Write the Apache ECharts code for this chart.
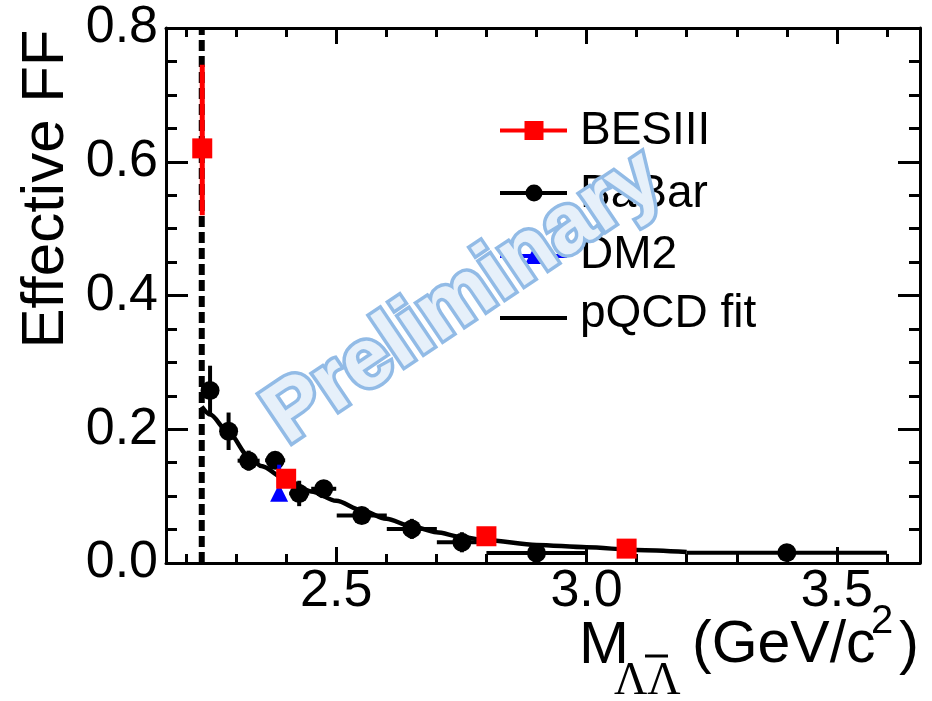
<!DOCTYPE html>
<html><head><meta charset="utf-8">
<script src="https://cdn.jsdelivr.net/npm/echarts@6/dist/echarts.min.js"></script>
<style>html,body{margin:0;padding:0;background:#fff}#c{width:932px;height:701px}</style>
</head><body><div id="c"></div>
<script>
// ---- axis ticks ----
const xMajorTicks = [2.5, 3.0, 3.5];
const xMinorTicks = [2.2, 2.3, 2.4, 2.6, 2.7, 2.8, 2.9, 3.1, 3.2, 3.3, 3.4, 3.6];
const xRange = [2.16, 3.666];
const yRange = [0, 0.8];
const threshold = 2.2314;

// ---- BESIII ----
const besX = [2.2324, 2.400, 2.800, 3.080];
const besY = [0.620, 0.126, 0.040, 0.0215];
const besErrUp = [0.125, 0.010, 0.005, 0.004];
const besErrDown = [0.100, 0.010, 0.005, 0.004];

// ---- BaBar ----
const babarX = [2.248, 2.285, 2.325, 2.378, 2.426, 2.475, 2.551, 2.651, 2.751, 2.900, 3.400];
const babarY = [0.258, 0.197, 0.153, 0.1535, 0.104, 0.111, 0.071, 0.051, 0.031, 0.015, 0.0155];
const babarXErr = [0.0, 0.0, 0.022, 0.02, 0.02, 0.025, 0.05, 0.05, 0.05, 0.10, 0.20];
const babarYErr = [0.037, 0.028, 0.015, 0.012, 0.019, 0.010, 0.008, 0.015, 0.015, 0.008, 0.008];

// ---- DM2 ----
const dm2X = [2.386];
const dm2Y = [0.105];
const dm2ErrUp = [0.042];
const dm2ErrDown = [0.010];

// ---- pQCD fit ----
const fitX = [2.2314, 2.248, 2.285, 2.325, 2.35, 2.40, 2.45, 2.50, 2.55, 2.60, 2.65, 2.70, 2.75, 2.80, 2.90, 3.00, 3.10, 3.20];
const fitY = [0.234, 0.222, 0.195, 0.160, 0.145, 0.125, 0.107, 0.093, 0.079, 0.066, 0.055, 0.046, 0.039, 0.034, 0.027, 0.0235, 0.0195, 0.0165];

const FONT = '"Liberation Sans", Arial, sans-serif';

function errData(xs, ys, xlo, xhi, ylo, yhi) {
  return xs.map((x, i) => [x, ys[i], x - xlo[i], x + xhi[i], ys[i] - ylo[i], ys[i] + yhi[i]]);
}
function errRender(color, w) {
  return function (params, api) {
    const x = api.value(0), y = api.value(1);
    const xl = api.value(2), xh = api.value(3), yl = api.value(4), yh = api.value(5);
    const ch = [];
    if (yh > yl) {
      const a = api.coord([x, yl]), b = api.coord([x, yh]);
      ch.push({type: 'line', shape: {x1: a[0], y1: a[1], x2: b[0], y2: b[1]}, style: {stroke: color, lineWidth: w}});
    }
    if (xh > xl) {
      const a = api.coord([xl, y]), b = api.coord([xh, y]);
      ch.push({type: 'line', shape: {x1: a[0], y1: a[1], x2: b[0], y2: b[1]}, style: {stroke: color, lineWidth: w}});
    }
    return {type: 'group', children: ch};
  };
}
const zeros = n => new Array(n).fill(0);

const lineBlk = {show: true, lineStyle: {color: '#000', width: 3}};
function xAx(pos, ticks, len, labels) {
  return {
    type: 'value', min: xRange[0], max: xRange[1], position: pos,
    axisLine: ticks === xMajorTicks ? lineBlk : {show: false},
    splitLine: {show: false},
    axisTick: {show: true, inside: true, length: len, customValues: ticks, lineStyle: {color: '#000', width: 3}},
    axisLabel: labels ? {show: true, customValues: xMajorTicks, formatter: v => v.toFixed(1), fontSize: 52, fontFamily: FONT, color: '#000', margin: 3} : {show: false}
  };
}
function yAx(pos, labels) {
  return {
    type: 'value', min: yRange[0], max: yRange[1], interval: 0.2, position: pos,
    axisLine: lineBlk, splitLine: {show: false},
    axisTick: {show: true, inside: true, length: 22, lineStyle: {color: '#000', width: 3}},
    minorTick: {show: true, splitNumber: 4, length: 11, lineStyle: {color: '#000', width: 3}},
    axisLabel: labels ? {show: true, formatter: v => v.toFixed(1), fontSize: 52, fontFamily: FONT, color: '#000', margin: 8} : {show: false}
  };
}

const chart = echarts.init(document.getElementById('c'), null, {renderer: 'canvas'});
const LX1 = 500, LX2 = 567, LXM = 534, LT = 580;
const legY = [130.5, 193, 256, 318];
chart.setOption({
  animation: false,
  backgroundColor: '#fff',
  grid: {left: 166, right: 12, top: 28, bottom: 138, containLabel: false, outerBoundsMode: 'none'},
  xAxis: [
    xAx('bottom', xMajorTicks, 16, true),
    xAx('bottom', xMinorTicks, 9, false),
    xAx('top', xMajorTicks, 16, false),
    xAx('top', xMinorTicks, 9, false)
  ],
  yAxis: [yAx('left', true), yAx('right', false)],
  series: [
    {type: 'line', name: 'threshold', data: [[threshold, yRange[0]], [threshold, yRange[1]]], symbol: 'none',
      lineStyle: {color: '#000', width: 6, type: [11, 5], opacity: 1}, z: 1},
    {type: 'line', name: 'pQCD fit', data: fitX.map((x, i) => [x, fitY[i]]), symbol: 'none', smooth: 0.3, smoothMonotone: 'x',
      lineStyle: {color: '#000', width: 4.5, opacity: 1}, z: 2},
    {type: 'custom', name: 'BaBar err', renderItem: errRender('#000', 4), encode: {x: [0, 2, 3], y: [1, 4, 5]},
      data: errData(babarX, babarY, babarXErr, babarXErr, babarYErr, babarYErr), z: 3},
    {type: 'scatter', name: 'BaBar', data: babarX.map((x, i) => [x, babarY[i]]), symbol: 'circle', symbolSize: 19,
      itemStyle: {color: '#000', opacity: 1}, z: 4},
    {type: 'custom', name: 'DM2 err', renderItem: errRender('#0000ff', 4), encode: {x: [0, 2, 3], y: [1, 4, 5]},
      data: errData(dm2X, dm2Y, zeros(1), zeros(1), dm2ErrDown, dm2ErrUp), z: 5},
    {type: 'scatter', name: 'DM2', data: dm2X.map((x, i) => [x, dm2Y[i]]), symbol: 'triangle', symbolSize: 18,
      itemStyle: {color: '#0000ff', opacity: 1}, z: 6},
    {type: 'custom', name: 'BESIII err', renderItem: errRender('#ff0000', 5), encode: {x: [0, 2, 3], y: [1, 4, 5]},
      data: errData(besX, besY, zeros(4), zeros(4), besErrDown, besErrUp), z: 7},
    {type: 'scatter', name: 'BESIII', data: besX.map((x, i) => [x, besY[i]]), symbol: 'rect', symbolSize: [20, 20],
      itemStyle: {color: '#ff0000', opacity: 1}, z: 8}
  ],
  graphic: [
    // legend
    {type: 'line', shape: {x1: LX1, y1: legY[0], x2: LX2, y2: legY[0]}, style: {stroke: '#ff0000', lineWidth: 4}, z: 10},
    {type: 'rect', shape: {x: LXM - 9.5, y: legY[0] - 9.5, width: 19, height: 19}, style: {fill: '#ff0000'}, z: 10},
    {type: 'text', x: LT, y: legY[0] + 1, style: {text: 'BESIII', font: '46px ' + FONT, fill: '#000', textVerticalAlign: 'middle'}, z: 10},
    {type: 'line', shape: {x1: LX1, y1: legY[1], x2: LX2, y2: legY[1]}, style: {stroke: '#000', lineWidth: 4}, z: 10},
    {type: 'circle', shape: {cx: LXM, cy: legY[1], r: 8.5}, style: {fill: '#000'}, z: 10},
    {type: 'text', x: LT, y: legY[1] + 1, style: {text: 'BaBar', font: '46px ' + FONT, fill: '#000', textVerticalAlign: 'middle'}, z: 10},
    {type: 'line', shape: {x1: LX1, y1: legY[2], x2: LX2, y2: legY[2]}, style: {stroke: '#0000ff', lineWidth: 4}, z: 10},
    {type: 'polygon', shape: {points: [[LXM, legY[2] - 9], [LXM - 9, legY[2] + 8], [LXM + 9, legY[2] + 8]]}, style: {fill: '#0000ff'}, z: 10},
    {type: 'text', x: LT, y: legY[2] - 1, style: {text: 'DM2', font: '46px ' + FONT, fill: '#000', textVerticalAlign: 'middle'}, z: 10},
    {type: 'line', shape: {x1: LX1, y1: legY[3], x2: LX2, y2: legY[3]}, style: {stroke: '#000', lineWidth: 4}, z: 10},
    {type: 'text', x: LT, y: legY[3] - 4, style: {text: 'pQCD fit', font: '46px ' + FONT, fill: '#000', textVerticalAlign: 'middle'}, z: 10},
    // y title
    {type: 'text', x: 46, y: 189, rotation: Math.PI / 2, style: {text: 'Effective FF', font: '60px ' + FONT, fill: '#000', textAlign: 'center', textVerticalAlign: 'middle'}, z: 10},
    // x title
    {type: 'text', x: 579, y: 646, style: {text: 'M', font: '60px ' + FONT, fill: '#000', textVerticalAlign: 'middle'}, z: 10},
    {type: 'text', x: 614, y: 682, style: {text: 'ΛΛ', font: '46px "Liberation Serif", "DejaVu Serif", serif', fill: '#000', textVerticalAlign: 'middle'}, z: 10},
    {type: 'line', shape: {x1: 645, y1: 656, x2: 668, y2: 656}, style: {stroke: '#000', lineWidth: 3}, z: 10},
    {type: 'text', x: 692, y: 646, style: {text: '(GeV/c', font: '59px ' + FONT, fill: '#000', textVerticalAlign: 'middle'}, z: 10},
    {type: 'text', x: 871, y: 622, style: {text: '2', font: '40px ' + FONT, fill: '#000', textVerticalAlign: 'middle'}, z: 10},
    {type: 'text', x: 899, y: 646, style: {text: ')', font: '60px ' + FONT, fill: '#000', textVerticalAlign: 'middle'}, z: 10},
    // watermark
    {type: 'text', x: 464, y: 298, rotation: 34 * Math.PI / 180, z: 100,
      style: {text: 'Preliminary', font: 'bold 84px ' + FONT, fill: '#e6f0fa', stroke: '#92bbe6', lineWidth: 7,
        textAlign: 'center', textVerticalAlign: 'middle',
        shadowBlur: 9, shadowColor: 'rgba(50,90,140,0.8)', shadowOffsetX: 4, shadowOffsetY: 5}}
  ]
});
</script></body></html>
